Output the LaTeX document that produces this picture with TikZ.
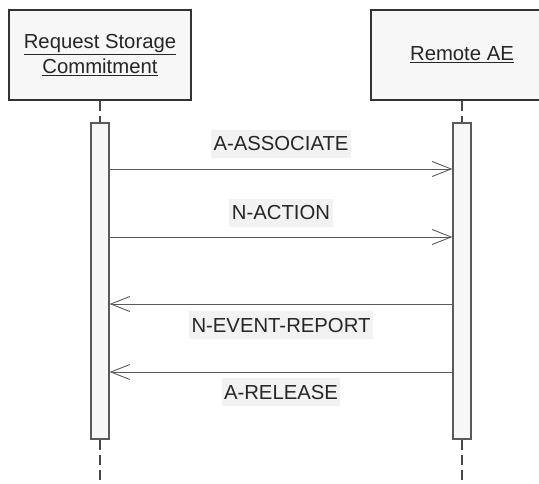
\documentclass[tikz,border=0pt]{standalone}
\usepackage{fontspec}
\setmainfont{Liberation Sans}
\usetikzlibrary{positioning,arrows.meta}
\definecolor{boxfill}{HTML}{F7F7F7}
\definecolor{lblfill}{HTML}{F2F2F2}
\definecolor{linegray}{HTML}{5A5A5A}
\definecolor{edgegray}{HTML}{333333}

\begin{document}
\begin{tikzpicture}[x=1pt,y=-1pt,
	font=\fontsize{20.3}{25}\selectfont,
	actor/.style={draw=edgegray,line width=1.3pt,fill=boxfill,minimum width=182pt,minimum height=90pt,align=center,text=black!85},
	bar/.style={draw=linegray,line width=1.2pt,fill=boxfill,minimum width=18pt,minimum height=316pt,inner sep=0pt},
	lifeline/.style={draw=edgegray!90,line width=1.6pt,dash pattern=on 10pt off 5pt},
	msg/.style={draw=linegray,line width=0.9pt,-{Straight Barb[length=19pt,width=15pt,line width=0.9pt]}},
	lbl/.style={fill=lblfill,inner xsep=2.5pt,minimum height=28pt,text=black!85}]
	\useasboundingbox (0,0) rectangle (539,483);
	\clip (0,0) rectangle (539,483);
	% participants
	\node[actor] (req) at (100,55) {\underline{Request Storage}\\\underline{Commitment}};
	\node[actor] (rae) at (462,55) {\underline{Remote AE}};
	\node[bar] (reqbar) at (100,281) {};
	\node[bar] (raebar) at (462,281) {};
	\coordinate (reqend) at (100,483);
	\coordinate (raeend) at (462,483);
	\draw[lifeline] (req) -- (reqbar) (reqbar) -- (reqend);
	\draw[lifeline] (rae) -- (raebar) (raebar) -- (raeend);
	% messages
	\draw[msg] (reqbar.east |- 0,169) -- node[lbl,above=11pt] {A-ASSOCIATE} (raebar.west |- 0,169);
	\draw[msg] (reqbar.east |- 0,237) -- node[lbl,above=10pt] {N-ACTION} (raebar.west |- 0,237);
	\draw[msg] (raebar.west |- 0,304) -- node[lbl,below=7pt] {N-EVENT-REPORT} (reqbar.east |- 0,304);
	\draw[msg] (raebar.west |- 0,372) -- node[lbl,below=6pt] {A-RELEASE} (reqbar.east |- 0,372);
\end{tikzpicture}
\end{document}
